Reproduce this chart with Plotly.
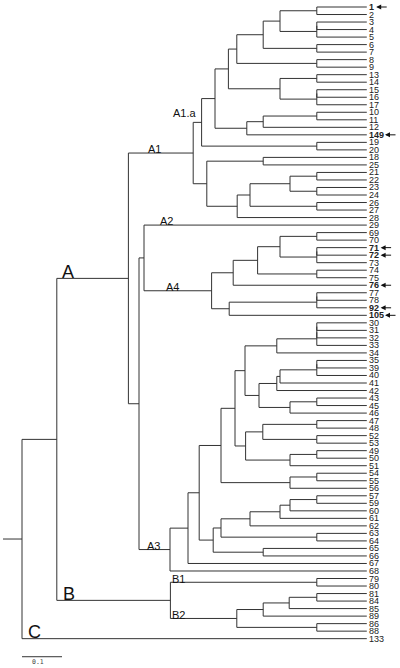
import plotly.graph_objects as go

# ---------------- data ----------------
leaf_labels = ["1", "2", "3", "4", "5", "6", "7", "8", "9", "13", "14", "15", "16", "17",
               "10", "11", "12", "149", "19", "20", "18", "25", "21", "22", "23", "24",
               "26", "27", "28", "29", "69", "70", "71", "72", "73", "74", "75", "76",
               "77", "78", "92", "105", "30", "31", "32", "33", "34", "35", "39", "40",
               "41", "42", "43", "45", "46", "47", "48", "52", "53", "49", "50", "51",
               "54", "55", "56", "57", "59", "60", "61", "62", "63", "64", "65", "66",
               "67", "68", "79", "80", "81", "84", "85", "89", "86", "88", "133"]
bold_leaves = ["1", "149", "71", "72", "76", "92", "105"]

# each internal node = contiguous run of leaves (first .. last) and its distance from the root
clade_first = ["1", "1", "1", "1", "1", "1", "1", "1", "1", "1", "1", "3", "3", "6", "8",
               "13", "13", "15", "15", "10", "10", "10", "19", "18", "18", "21", "21", "21",
               "21", "23", "26", "29", "29", "69", "69", "69", "69", "69", "71", "71", "74",
               "77", "77", "77", "30", "30", "30", "30", "30", "30", "30", "30", "30", "30",
               "35", "35", "35", "35", "35", "43", "43", "47", "47", "47", "52", "49", "49",
               "54", "54", "57", "57", "57", "57", "57", "57", "63", "65", "79", "79", "81",
               "81", "81", "81", "86"]
clade_last = ["133", "88", "68", "28", "20", "149", "17", "9", "7", "5", "2", "5", "4", "7", "9",
              "17", "14", "17", "16", "149", "12", "11", "20", "28", "25", "28", "27", "24",
              "22", "24", "27", "68", "105", "105", "76", "75", "73", "70", "73", "72", "75",
              "105", "92", "78", "68", "67", "66", "56", "51", "46", "34", "33", "32", "31",
              "46", "42", "41", "40", "39", "46", "45", "51", "53", "48", "53", "51", "50",
              "56", "55", "66", "64", "62", "61", "60", "59", "64", "66", "88", "80", "88",
              "89", "85", "84", "88"]
clade_depth = [0.0, 0.087, 0.266, 0.428, 0.449, 0.4825, 0.516, 0.537, 0.603, 0.645, 0.737,
               0.737, 0.737, 0.737, 0.737, 0.645, 0.737, 0.737, 0.737, 0.562, 0.603, 0.737,
               0.737, 0.462, 0.603, 0.538, 0.57, 0.67, 0.737, 0.737, 0.737, 0.2925, 0.305,
               0.474, 0.528, 0.589, 0.645, 0.737, 0.737, 0.737, 0.737, 0.518, 0.737, 0.737,
               0.37, 0.415, 0.443, 0.4975, 0.5325, 0.5575, 0.637, 0.737, 0.737, 0.737,
               0.5925, 0.637, 0.645, 0.737, 0.737, 0.67, 0.737, 0.559, 0.602, 0.737, 0.737,
               0.67, 0.737, 0.67, 0.737, 0.478, 0.4975, 0.57, 0.645, 0.67, 0.737, 0.737,
               0.603, 0.371, 0.737, 0.537, 0.603, 0.668, 0.737, 0.737]
tip_depth = 0.862
root_stub = 0.0475
scale_length = 0.1

group_names = ["A", "B", "C", "A1", "A1.a", "A2", "A3", "A4", "B1", "B2"]
group_first = ["1", "79", "133", "1", "1", "29", "30", "69", "79", "81"]
group_last = ["68", "88", "133", "28", "20", "29", "68", "105", "80", "88"]
group_label_x = [0.1, 0.102, 0.014, 0.314, 0.378, 0.345, 0.313, 0.36, 0.376, 0.376]

# ---------------- layout constants ----------------
W, H = 400, 668
x_range = [-0.055, 0.945]
y_range = [87.9, -0.931]
px_x = W / (x_range[1] - x_range[0])
line_color = "#333333"
FONT = "Liberation Sans, Arial, sans-serif"
LEAF_FONT = "Liberation Sans Narrow, Arial Narrow, Liberation Sans, sans-serif"
digit_w = 4.4

# ---------------- build tree ----------------
pos = {lab: i for i, lab in enumerate(leaf_labels)}
clades = [(pos[f], pos[l], d) for f, l, d in zip(clade_first, clade_last, clade_depth)]
nc = len(clades)

children = {k: [] for k in range(nc)}
for k, (a, b, _) in enumerate(clades):
    best = None
    for j, (c, e, _) in enumerate(clades):
        if j != k and c <= a and e >= b:
            if best is None or (e - c) < (clades[best][1] - clades[best][0]):
                best = j
    if best is not None:
        children[best].append((a, "c", k))
for i in range(len(leaf_labels)):
    best = None
    for j, (c, e, _) in enumerate(clades):
        if c <= i <= e:
            if best is None or (e - c) < (clades[best][1] - clades[best][0]):
                best = j
    children[best].append((i, "l", i))

node_y = {}


def calc_y(k):
    ch = sorted(children[k])
    ys = [(i if kind == "l" else calc_y(idx)) for i, kind, idx in ch]
    node_y[k] = (ys[0] + ys[-1]) / 2
    return node_y[k]


root = max(range(nc), key=lambda k: clades[k][1] - clades[k][0])
calc_y(root)

xs, ys = [], []
for k in range(nc):
    d = clades[k][2]
    ch = sorted(children[k])
    cys = []
    for i, kind, idx in ch:
        if kind == "l":
            cy, cx = i, tip_depth
        else:
            cy, cx = node_y[idx], clades[idx][2]
        cys.append(cy)
        xs += [d, cx, None]
        ys += [cy, cy, None]
    xs += [d, d, None]
    ys += [cys[0], cys[-1], None]
xs += [-root_stub, 0.0, None]
ys += [node_y[root], node_y[root], None]

fig = go.Figure()
fig.add_trace(go.Scatter(x=xs, y=ys, mode="lines",
                         line=dict(color=line_color, width=1),
                         hoverinfo="skip", showlegend=False))

# scale bar
n = len(leaf_labels)
scale_y = n - 1 + 2.4
fig.add_trace(go.Scatter(x=[0, scale_length], y=[scale_y, scale_y], mode="lines",
                         line=dict(color=line_color, width=1),
                         hoverinfo="skip", showlegend=False))

annotations = []
for i, lab in enumerate(leaf_labels):
    bold = lab in bold_leaves
    annotations.append(dict(
        x=tip_depth, y=i, xref="x", yref="y", xanchor="left", yanchor="middle",
        xshift=2.5, showarrow=False, borderpad=0, borderwidth=0,
        text=f"<b>{lab}</b>" if bold else lab,
        font=dict(family=LEAF_FONT, size=9, color="#222222")))
    if bold:
        head_x = tip_depth + (2.5 + digit_w * len(lab) + 2.5) / px_x
        annotations.append(dict(
            x=head_x, y=i, xref="x", yref="y", text="", showarrow=True,
            ax=12, ay=0, arrowhead=2, arrowsize=1, arrowwidth=1,
            arrowcolor="#111111"))

for name, f, l, gx in zip(group_names, group_first, group_last, group_label_x):
    if f == l:
        gy = pos[f]
    else:
        k = [j for j in range(nc) if clades[j][0] == pos[f] and clades[j][1] == pos[l]][0]
        gy = node_y[k]
    size = 18 if len(name) == 1 else 11
    extra = 5.7 if name == "A1.a" else 0.0
    annotations.append(dict(
        x=gx, y=gy, xref="x", yref="y", xanchor="left", yanchor="bottom",
        yshift=-0.21 * size + extra, showarrow=False, borderpad=0, borderwidth=0,
        text=name, font=dict(family=FONT, size=size, color="#111111")))

annotations.append(dict(
    x=scale_length * 0.4, y=scale_y, xref="x", yref="y", xanchor="center", yanchor="top",
    yshift=-1, showarrow=False, borderpad=0, borderwidth=0, text="0.1",
    font=dict(family="DejaVu Sans Mono, monospace", size=6.5, color="#444444")))

fig.update_layout(
    width=W, height=H, margin=dict(l=0, r=0, t=0, b=0),
    paper_bgcolor="white", plot_bgcolor="white",
    xaxis=dict(range=x_range, visible=False, fixedrange=True),
    yaxis=dict(range=y_range, visible=False, fixedrange=True),
    annotations=annotations, showlegend=False, hovermode=False)

fig.write_html("out.html", config={"displayModeBar": False, "staticPlot": True},
               post_script="document.body.style.margin='0px';document.body.style.overflow='hidden';")
